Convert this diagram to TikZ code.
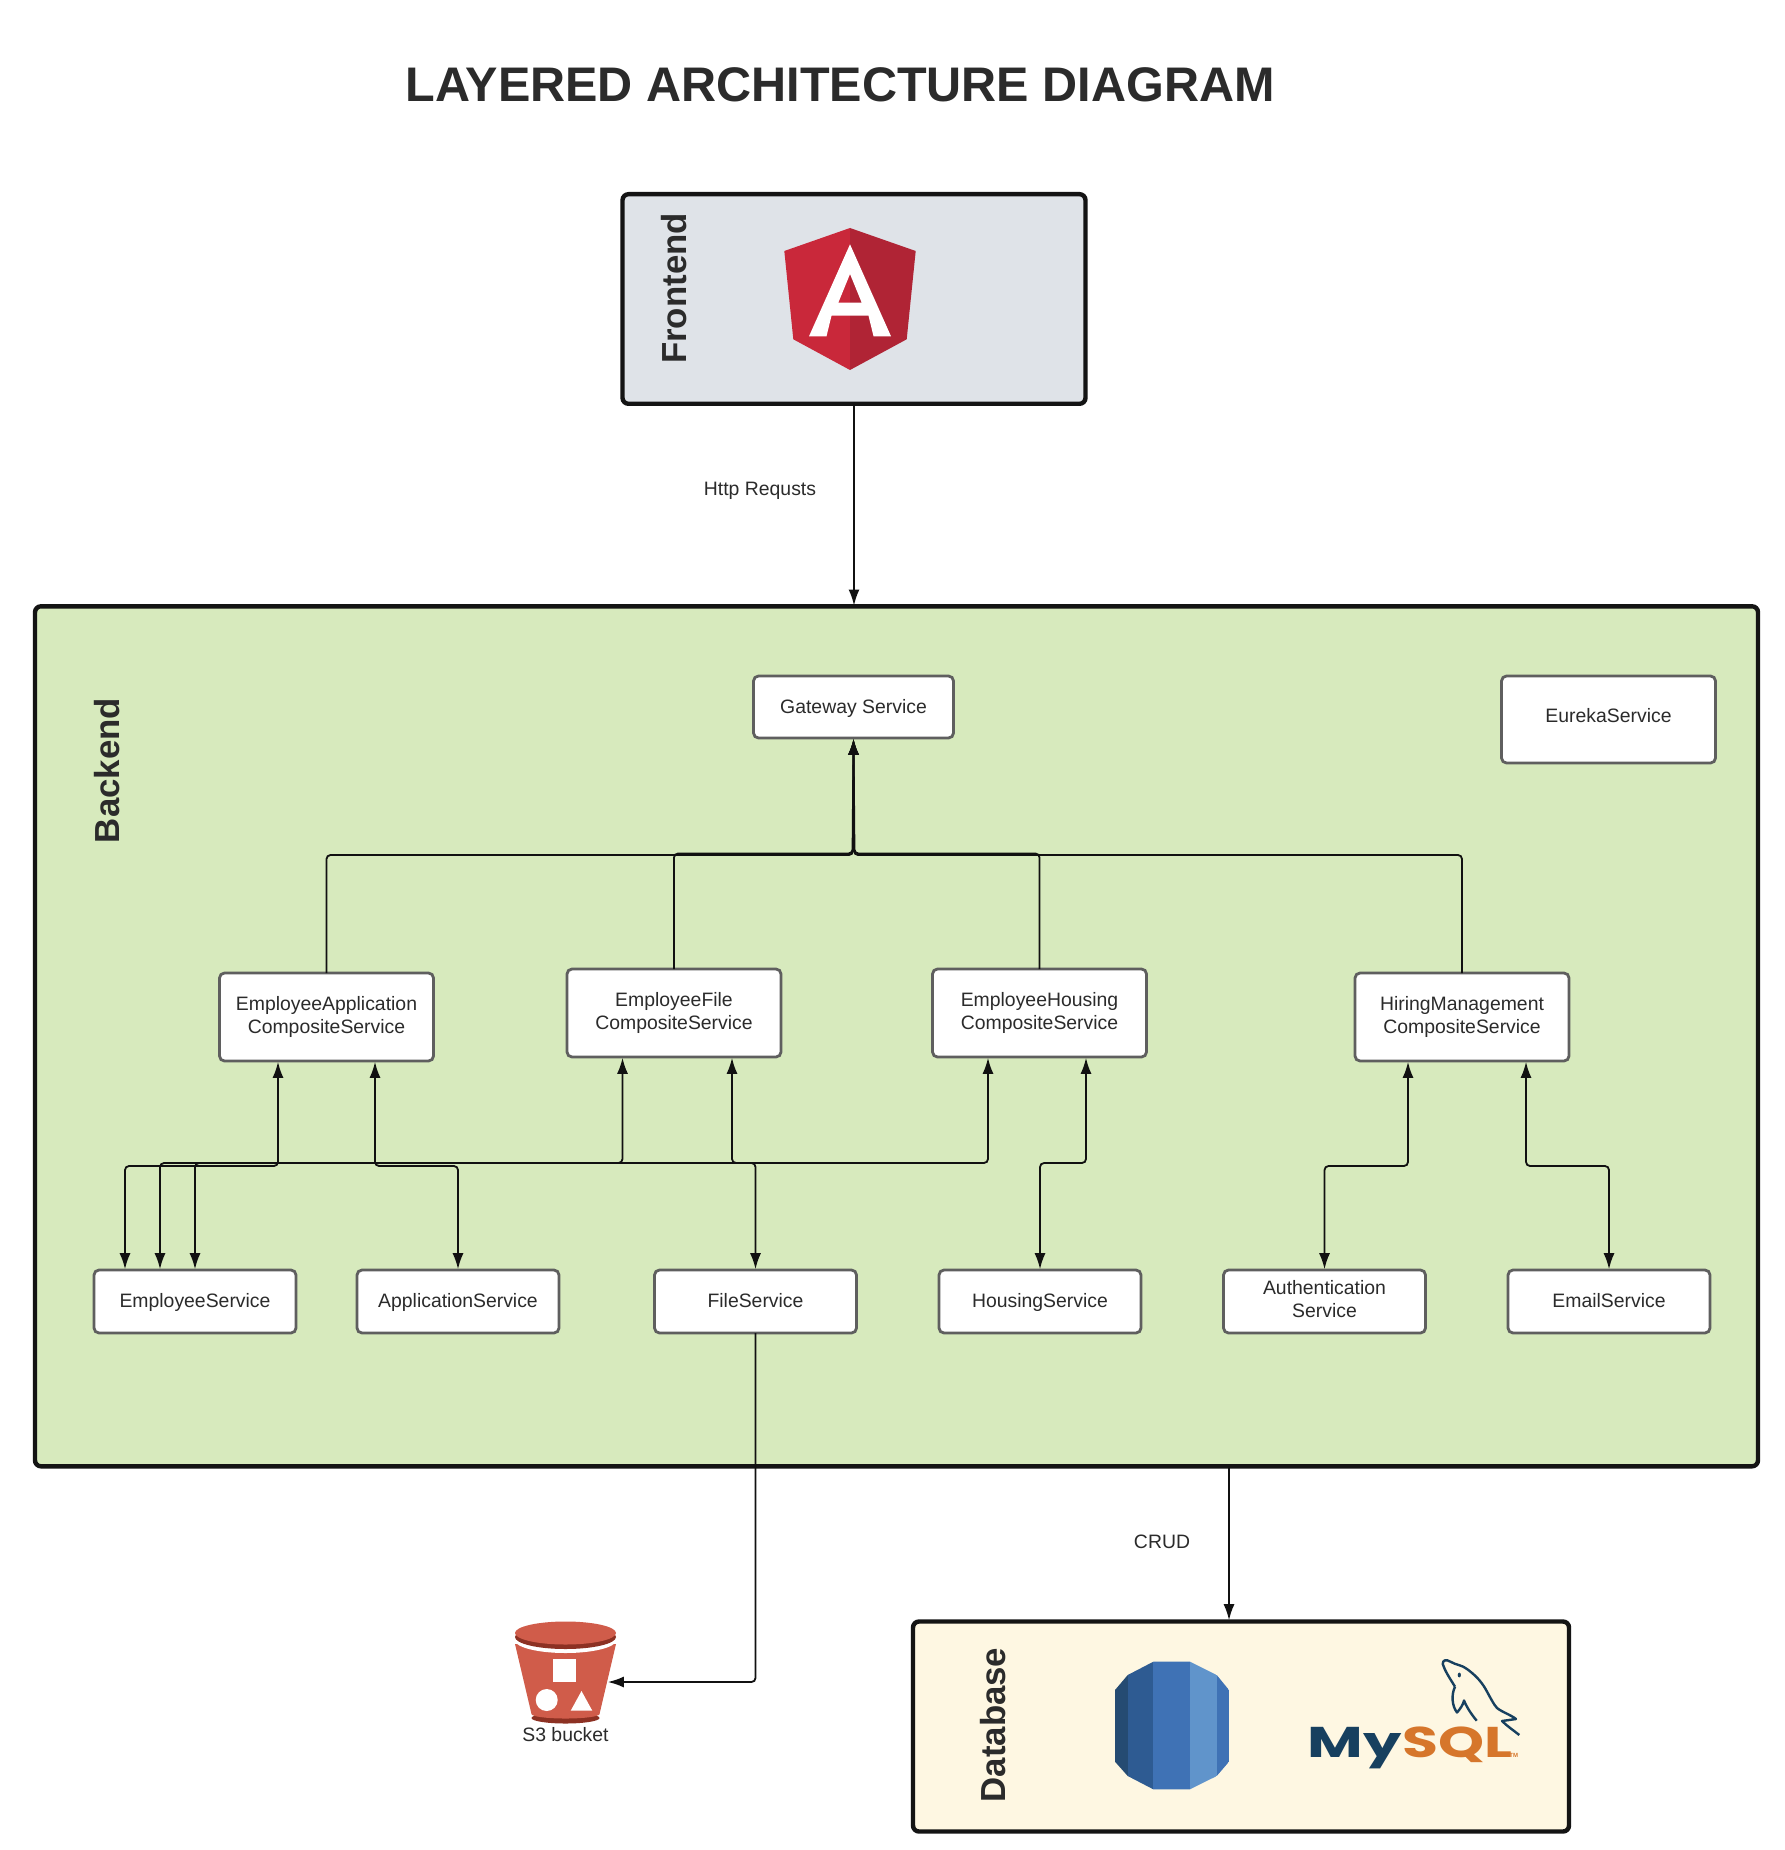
\documentclass[tikz,border=0pt]{standalone}
\usepackage{fontspec}
\setmainfont{Liberation Sans}
\newfontfamily\logofont{Poppins}
\usetikzlibrary{arrows.meta,calc}
\definecolor{inkc}{HTML}{2B2B2B}
\definecolor{linec}{HTML}{111111}
\definecolor{boxc}{HTML}{5F5F5F}
\definecolor{frontc}{HTML}{DFE3E8}
\definecolor{backc}{HTML}{D7EABD}
\definecolor{dbc}{HTML}{FEF7E2}
\definecolor{ngl}{HTML}{C9283A}
\definecolor{ngr}{HTML}{B02435}
\definecolor{sred}{HTML}{D05C4A}
\definecolor{sdark}{HTML}{8C3123}
\definecolor{rdsa}{HTML}{254B72}
\definecolor{rdsb}{HTML}{2E5B92}
\definecolor{rdsc}{HTML}{3F72B5}
\definecolor{rdsd}{HTML}{6094CB}
\definecolor{msqblue}{HTML}{17405F}
\definecolor{msqor}{HTML}{D6762B}
\tikzset{
  layer/.style={draw=black!92,line width=2.2pt,rounded corners=3pt,inner sep=0pt,outer sep=0pt},
  svc/.style={draw=boxc,line width=1.4pt,rounded corners=2.5pt,fill=white,text=inkc,font=\fontsize{9.7}{11.5}\selectfont,align=center,inner sep=0pt,outer sep=0pt,minimum width=101pt,minimum height=31.5pt},
  oneline/.style={svc,execute at begin node={\rule[-2.7pt]{0pt}{11.5pt}}},
  comp/.style={svc,minimum width=107pt,minimum height=44pt},
  lbl/.style={text=inkc,font=\fontsize{9.7}{11.5}\selectfont,inner sep=0pt},
  laytitle/.style={text=inkc,font=\fontsize{17.4}{20}\selectfont\bfseries,rotate=90,inner sep=0pt},
  conn/.style={draw=linec,line width=0.9pt,rounded corners=2pt},
  oneway/.style={conn,-{Latex[length=8pt,width=5.5pt]},shorten >=0.4pt},
  twoway/.style={conn,{Latex[length=8pt,width=5.5pt]}-{Latex[length=8pt,width=5.5pt]},shorten >=0.4pt,shorten <=0.4pt},
}
\begin{document}
\begin{tikzpicture}[x=0.5pt,y=-0.5pt]
\useasboundingbox (0,0) rectangle (1784,1850);
\fill[white] (0,0) rectangle (1784,1850);

\node[text=inkc,font=\fontsize{24.27}{28}\selectfont\bfseries,inner sep=0pt] (title) at (840,85) {LAYERED ARCHITECTURE DIAGRAM};

% layers
\node[layer,fill=frontc,minimum width=231.5pt,minimum height=104.8pt] (front) at (854,299) {};
\node[layer,fill=backc,minimum width=861.5pt,minimum height=430pt] (back) at (896.5,1036.3) {};
\node[layer,fill=dbc,minimum width=328pt,minimum height=105pt] (db) at (1241,1726.5) {};
\node[laytitle] (frontlbl) at (674,288.5) {Frontend};
\node[laytitle] (backlbl) at (107,770.5) {Backend};
\node[laytitle] (dblbl) at (993,1725) {Database};

% angular logo
\fill[ngl] (850,228) -- (784.3,251) -- (793.3,339.3) -- (850,370) -- cycle;
\fill[ngr] (850,228) -- (915.7,251) -- (906.7,339.3) -- (850,370) -- cycle;
\fill[white,even odd rule] (850,244.3) -- (809,336.3) -- (826.5,336.3) -- (831.5,315.7) -- (868.5,315.7) -- (873.5,336.3) -- (891,336.3) -- cycle
  (850,274) -- (838.3,302.7) -- (861.7,302.7) -- cycle;

% S3 bucket
\fill[sdark] (565.5,1718) ellipse [x radius=34, y radius=5.5];
\fill[sred] (515,1644) -- (616,1644) -- (599.5,1714) -- (531.5,1714) -- cycle;
\fill[sred] (565.5,1714) ellipse [x radius=34, y radius=4.5];
\fill[white] (565.5,1640) ellipse [x radius=50.8, y radius=13];
\fill[sdark] (565.5,1637) ellipse [x radius=50.5, y radius=12];
\fill[sred] (565.5,1633) ellipse [x radius=50.5, y radius=11.5];
\fill[white] (553.3,1659.3) rectangle (575.7,1681.7);
\fill[white] (546.7,1700) circle [radius=11];
\fill[white] (570.7,1710.7) -- (592.3,1710.7) -- (581.5,1691) -- cycle;
\node[lbl] (s3) at (565.5,1735) {S3 bucket};
\coordinate (s3in) at (607,1682);

% RDS icon
\begin{scope}
\clip (1153.3,1661.7) -- (1190,1661.7) -- (1216.7,1675) -- (1229,1690) -- (1229,1761.7) -- (1216.7,1776) -- (1190,1789.3) -- (1153.3,1789.3) -- (1127.7,1776) -- (1115,1761.7) -- (1115,1690) -- (1127.7,1675) -- cycle;
\fill[rdsa] (1115,1660) rectangle (1127.7,1790);
\fill[rdsb] (1127.7,1660) rectangle (1153.3,1790);
\fill[rdsc] (1153.3,1660) rectangle (1190,1790);
\fill[rdsd] (1190,1660) rectangle (1216.7,1790);
\fill[rdsc] (1216.7,1660) rectangle (1229,1790);
\end{scope}

% MySQL logo
\node[anchor=base west,inner sep=0pt,text=msqblue,font=\fontsize{21.5}{24}\selectfont\logofont\bfseries,xscale=1.41] (my) at (1307,1757) {My};
\node[anchor=base west,inner sep=0pt,text=msqor,font=\fontsize{21.5}{24}\selectfont\logofont\bfseries,xscale=1.36] (sql) at (1402,1757) {SQL};
\node[anchor=base west,inner sep=0pt,text=msqor,font=\fontsize{3}{4}\selectfont\bfseries] (tm) at (1509,1757) {TM};
\draw[msqblue,line width=1.2pt,line join=round] (1455,1686.7) .. controls (1449,1677) and (1445,1671) .. (1442.7,1664) .. controls (1442.7,1660) and (1446,1659) .. (1450,1661.5) .. controls (1456,1665) and (1462,1665) .. (1467,1669) .. controls (1475,1675) and (1480,1680) .. (1485,1688) .. controls (1490,1697) and (1494,1705) .. (1497,1708) .. controls (1502,1712) and (1511,1715) .. (1516,1719) -- (1502,1721) .. controls (1507,1726) and (1513,1730) .. (1519.3,1735);
\draw[msqblue,line width=1.2pt,line join=round] (1455,1686.7) .. controls (1451,1695) and (1452,1706) .. (1457,1712.5) .. controls (1460,1709) and (1463,1705) .. (1464,1700.5) .. controls (1467,1708) and (1472,1715) .. (1476.7,1720.7);
\fill[msqblue] (1459.3,1675) ellipse [x radius=1.6, y radius=2.4];

% services
\node[oneline,minimum width=100pt,minimum height=31pt] (gw) at (853.5,707) {Gateway Service};
\node[comp,minimum height=43.5pt] (eureka) at (1608.5,719.5) {\raisebox{3.6pt}{EurekaService}};
\node[comp] (ea) at (326.5,1017) {EmployeeApplication\\CompositeService};
\node[comp] (ef) at (674,1013) {EmployeeFile\\CompositeService};
\node[comp] (eh) at (1039.5,1013) {EmployeeHousing\\CompositeService};
\node[comp] (hm) at (1462,1017) {HiringManagement\\CompositeService};
\node[oneline] (emp) at (195,1301.5) {EmployeeService};
\node[oneline] (app) at (458,1301.5) {ApplicationService};
\node[oneline] (file) at (755.5,1301.5) {FileService};
\node[oneline] (hous) at (1040,1301.5) {HousingService};
\node[svc,text depth=2.2pt] (auth) at (1324.5,1301.5) {Authentication\\Service};
\node[oneline] (mail) at (1609,1301.5) {EmailService};

% connectors
\draw[oneway] (front.south) -- (back.north -| front.south);
\draw[oneway] (ea.north) -- (326.5,855) -- (853,855) -- (gw.south);
\draw[oneway] (hm.north) -- (1462,855) -- (854,855) -- (gw.south);
\draw[oneway] (ef.north) -- (674,853.5) -- (852.5,853.5) -- (gw.south);
\draw[oneway] (eh.north) -- (1039.5,853.5) -- (854.5,853.5) -- (gw.south);

\draw[twoway] ($(ea.south)+(-48.5,0)$) -- (278,1166) -- (125,1166) -- ($(emp.north)+(-70,0)$);
\draw[twoway] ($(ef.south)+(-51.5,0)$) -- (622.5,1163) -- (160,1163) -- ($(emp.north)+(-35,0)$);
\draw[twoway] ($(eh.south)+(-51.5,0)$) -- (988,1163) -- (195,1163) -- (emp.north);
\draw[twoway] ($(ea.south)+(48.5,0)$) -- (375,1166) -- (458,1166) -- (app.north);
\draw[twoway] ($(ef.south)+(58,0)$) -- (732,1163) -- (755.5,1163) -- (file.north);
\draw[twoway] ($(eh.south)+(46.5,0)$) -- (1086,1163) -- (1040,1163) -- (hous.north);
\draw[twoway] ($(hm.south)+(-54,0)$) -- (1408,1166) -- (1324.5,1166) -- (auth.north);
\draw[twoway] ($(hm.south)+(64,0)$) -- (1526,1166) -- (1609,1166) -- (mail.north);

\draw[oneway] (file.south) -- (755.5,1682) -- (s3in);
\draw[oneway] (back.south -| db.north) ++(-12,0) -- (1229,1621);

\node[lbl] (httplbl) at (760,490.8) {Http Requsts};
\node[lbl] (crudlbl) at (1162,1542) {CRUD};
\end{tikzpicture}
\end{document}
